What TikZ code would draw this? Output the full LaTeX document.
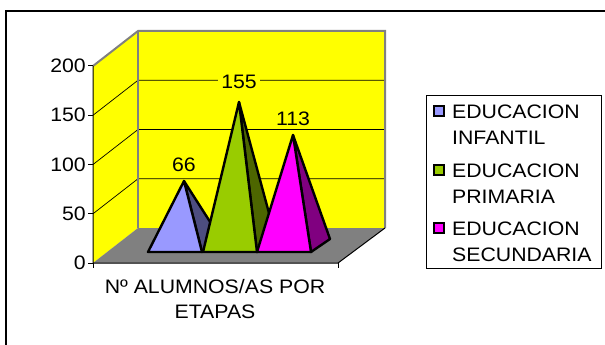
\documentclass[tikz,border=0pt]{standalone}
\usepackage{fontspec}
\setmainfont{Liberation Sans}[FakeStretch=1.09]
\usetikzlibrary{positioning,calc}
\definecolor{wallcolor}{rgb}{1,1,0}
\definecolor{floorcolor}{gray}{0.5}
\definecolor{infcolor}{RGB}{153,153,255}
\definecolor{infdark}{RGB}{77,77,128}
\definecolor{pricolor}{RGB}{153,204,0}
\definecolor{pridark}{RGB}{77,102,0}
\definecolor{seccolor}{RGB}{255,0,255}
\definecolor{secdark}{RGB}{128,0,128}
\begin{document}
\begin{tikzpicture} [
			x=1pt,y=-1pt,
			every node/.style={font=\fontsize{19.5}{26}\selectfont,inner sep=0pt},
			edge/.style={draw=black,line width=2.4pt,line join=round},
			rim/.style={draw=floorcolor,line width=2pt},
			gridline/.style={draw=black,line width=0.7pt},
			key/.style={draw=black,line width=1.8pt,minimum size=10.5pt},
		]
		\useasboundingbox (0,0) rectangle (605,345);
		\draw[line width=1.2pt] (6,11) rectangle (620,360);

		\coordinate (front) at (93,263);
		\coordinate (back) at (138,228);
		\coordinate (fronttop) at (93,66);
		\coordinate (backtop) at (138,31);
		\coordinate (backright) at (385,228);
		\coordinate (backtopright) at (385,31);
		\coordinate (frontright) at (338,263);

		% walls and floor
		\fill[wallcolor] (front) -- (fronttop) -- (backtop) -- (back) -- cycle;
		\fill[wallcolor] (backtop) rectangle (backright);
		\fill[floorcolor] (front) -- (back) -- (backright) -- (frontright) -- cycle;
		\foreach \v in {50,100,150} {
			\coordinate (g\v) at (138,228-0.985*\v);
			\draw[gridline] ($(g\v)+(-45,35)$) -- (g\v) -- (g\v -| backright);
		}
		\draw[rim] (fronttop) -- (backtop) -- (backtopright) -- (backright);
		\draw[rim] (backtop) -- (back);
		\draw[line width=1pt] (fronttop) -- (front) -- (frontright) -- (backright);
		\draw[line width=1pt] (front) -- ++(0,5);
		\draw[line width=1pt] (frontright) -- ++(0,5);
		\foreach \v in {0,50,100,150,200} {
			\draw[line width=1pt] (88,263-0.985*\v) -- (93,263-0.985*\v);
			\node (tick\v) [anchor=east] at (86,263-0.985*\v) {\v};
		}

		% pyramids
		\foreach \x/\h/\c/\n/\l in {148/181/inf/66/165,203/102/pri/155/82,257/135/sec/113/119} {
			\coordinate (fl\n) at (\x,252);
			\coordinate (fr\n) at (\x+54,252);
			\coordinate (br\n) at (\x+73,239);
			\coordinate (top\n) at (\x+36,\h);
			\filldraw[edge,fill=\c dark] (top\n) -- (fr\n) -- (br\n) -- cycle;
			\filldraw[edge,fill=\c color] (fl\n) -- (fr\n) -- (top\n) -- cycle;
			\node (val\n) [fill=wallcolor,inner xsep=3pt,inner ysep=1pt] at (\x+36,\l) {\n};
		}

		\node (cat) [anchor=base,align=center,font=\fontsize{19.5}{25}\selectfont] at (215,318) {Nº ALUMNOS/AS POR\\ETAPAS};

		% legend
		\node (legend) [draw=black,line width=1pt,minimum width=175pt,minimum height=173pt] at (513.5,181.5) {};
		\foreach \c/\t/\y in {inf/INFANTIL/111,pri/PRIMARIA/170,sec/SECUNDARIA/228} {
			\node (key\c) [key,fill=\c color] at (439,\y) {};
			\node (text\c) [anchor=base west,align=left] at (452,\y+33) {EDUCACION\\\t};
		}
	\end{tikzpicture}
\end{document}
